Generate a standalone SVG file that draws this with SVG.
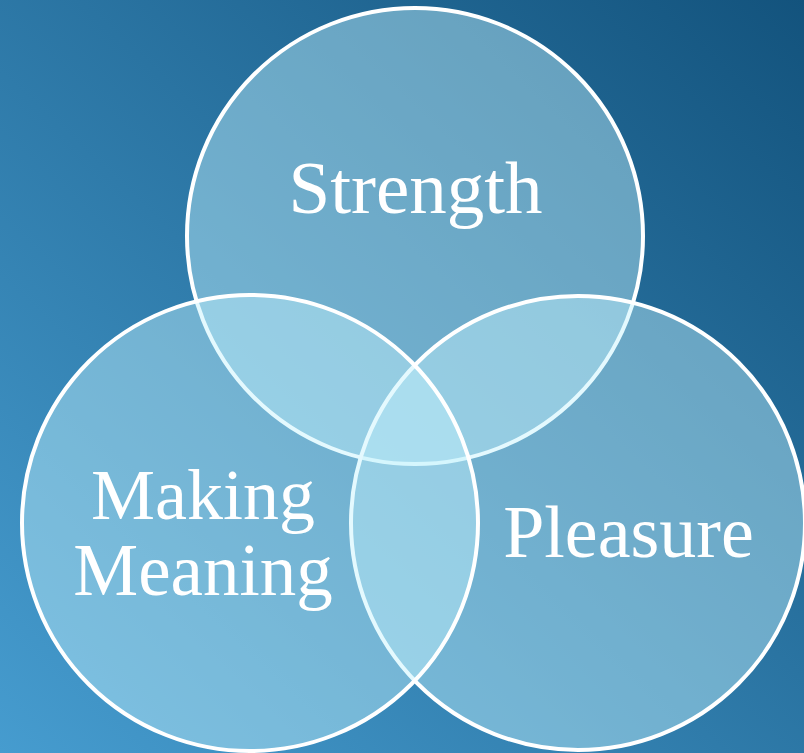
<svg xmlns="http://www.w3.org/2000/svg" width="804" height="753" viewBox="0 0 804 753">
  <defs>
    <linearGradient id="bg" x1="0" y1="1" x2="1" y2="0">
      <stop offset="0" stop-color="#469ccf"/>
      <stop offset="1" stop-color="#13537d"/>
    </linearGradient>
    <style>
      .ring { fill: #c4f2fd; fill-opacity: 0.45; stroke: #ffffff; stroke-width: 4; }
      .label { font-family: "Liberation Serif", "Times New Roman", serif; fill: #ffffff; text-anchor: middle; }
    </style>
  </defs>

  <!-- background -->
  <rect x="0" y="0" width="804" height="753" fill="url(#bg)"/>

  <!-- three overlapping sets -->
  <g id="strength">
    <circle class="ring" cx="415" cy="236" r="228"/>
    <text class="label" x="415.5" y="213" font-size="75">Strength</text>
  </g>
  <g id="pleasure">
    <circle class="ring" cx="578" cy="523" r="227"/>
    <text class="label" x="628.5" y="557" font-size="74">Pleasure</text>
  </g>
  <g id="making-meaning">
    <circle class="ring" cx="250" cy="523" r="228"/>
    <text class="label" x="203" y="519" font-size="72">Making</text>
    <text class="label" x="203" y="595" font-size="73">Meaning</text>
  </g>

  <g id="connectors"/>
</svg>
